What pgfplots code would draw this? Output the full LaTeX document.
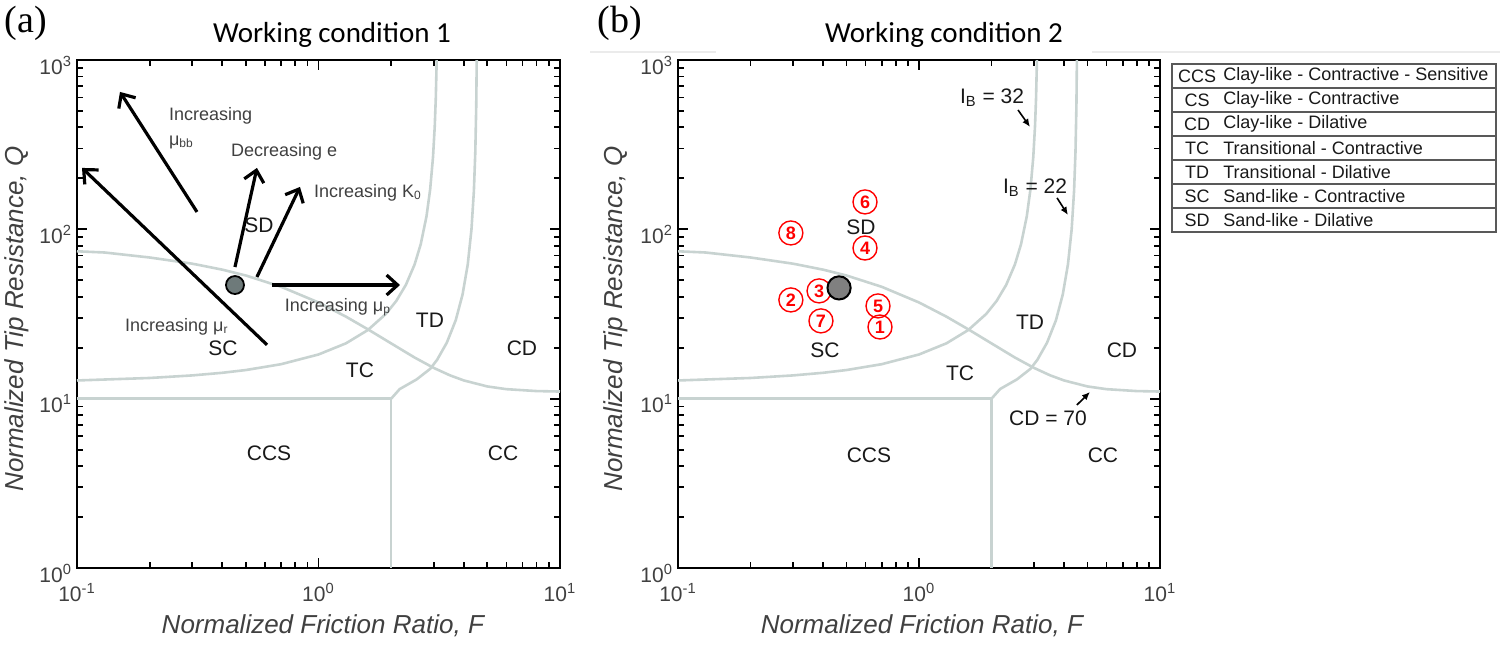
\documentclass[border=0pt]{standalone}
\usepackage{fontspec}
\setmainfont{Liberation Sans}
\newfontfamily\titlefont{Carlito}
\newfontfamily\panelfont{Liberation Serif}
\usepackage{pgfplots}
\pgfplotsset{compat=1.18}
\usetikzlibrary{arrows.meta}

\definecolor{bnd}{RGB}{200,211,209}
\definecolor{dotA}{RGB}{110,122,122}
\definecolor{dotB}{RGB}{128,128,128}

\tikzset{
  reglab/.style={font=\fontsize{10.5}{12}\selectfont, text=black!90},
  notelab/.style={font=\fontsize{9}{11}\selectfont, text=black!75},
  bndline/.style={draw=bnd, line width=1.3pt},
  bigarrow/.style={draw=black, line width=1.6pt, -{Straight Barb[length=5.5pt,width=10pt]}},
  smallarrow/.style={draw=black, line width=0.8pt, -{Latex[length=4pt,width=3.5pt]}},
}

\newcommand{\boundaries}{%
  \addplot[bndline, mark=none] coordinates {(0.1,10) (2.0,10) (2.0,1)};
  \addplot[bndline, mark=none] coordinates {
    (0.1,12.81) (0.2,13.25) (0.3,13.72) (0.4,14.22) (0.5,14.76) (0.7,15.98)
    (1.0,18.24) (1.3,21.23) (1.6,25.41) (1.9,31.63) (2.1,37.80) (2.3,46.97)
    (2.5,62.0) (2.65,81.58) (2.8,119.2) (2.9,172.2) (2.98,267.2) (3.03,407.9)
    (3.06,596.2) (3.0862,1000)};
  \addplot[bndline, mark=none] coordinates {
    (2.0,10) (2.17,11.4) (2.55,13.0) (2.9,15.0) (3.1,16.98) (3.4,21.43)
    (3.7,29.03) (3.95,41.22) (4.15,62.07) (4.3,100) (4.4,168.75) (4.46,287.2)
    (4.5,540) (4.5209,1000)};
  \addplot[bndline, mark=none] coordinates {
    (0.1,74.2) (0.13,73.0) (0.2,68.2) (0.3,62.7) (0.4,57.8) (0.5,53.4)
    (0.7,45.8) (1.0,37.0) (1.3,30.5) (1.6,25.7) (2.0,21.2) (2.5,17.5)
    (3.0,15.2) (3.5,13.74) (4.0,12.81) (5.0,11.81) (6.0,11.38) (8.0,11.09)
    (10,11.02)};
}

\begin{document}
\begin{tikzpicture}
\useasboundingbox (0,0) rectangle (750pt,322.5pt);

\draw[black!8, line width=0.6pt] (295pt,296.5pt) -- (358pt,296.5pt);
\draw[black!8, line width=0.6pt] (546pt,296.5pt) -- (750pt,296.5pt);

\node[font=\panelfont\fontsize{19}{21}\selectfont] at (13pt,311pt) {(a)};
\node[font=\panelfont\fontsize{19}{21}\selectfont] at (310pt,311pt) {(b)};
\node[font=\titlefont\fontsize{14.5}{16}\selectfont] at (166pt,305pt) {Working condition 1};
\node[font=\titlefont\fontsize{14.5}{16}\selectfont] at (472pt,305pt) {Working condition 2};

% panel (a)
\begin{axis}[
    at={(38.5pt,38.5pt)}, anchor=south west, width=241.5pt,
    xmode=log, ymode=log,
    scale only axis,
    height=254pt,
    xmin=0.1, xmax=10, ymin=1, ymax=1000,
    xtick={0.1,1,10}, ytick={1,10,100,1000},
    minor xtick={0.2,0.3,0.4,0.5,0.6,0.7,0.8,0.9,2,3,4,5,6,7,8,9},
    minor ytick={2,3,4,5,6,7,8,9,20,30,40,50,60,70,80,90,200,300,400,500,600,700,800,900},
    xticklabels={10\textsuperscript{-1},10\textsuperscript{0},10\textsuperscript{1}},
    yticklabels={10\textsuperscript{0},10\textsuperscript{1},10\textsuperscript{2},10\textsuperscript{3}},
    ticklabel style={font=\fontsize{10.5}{12}\selectfont, text=black!75},
    xticklabel style={yshift=-4pt},
    yticklabel style={yshift=-2.5pt, xshift=1pt},
    axis line style={line width=1.2pt},
    tick style={black, line width=0.9pt},
    major tick length=5pt, minor tick length=3pt,
    xlabel={Normalized Friction Ratio, F},
    ylabel={Normalized Tip Resistance, Q},
    label style={font=\fontsize{13}{15}\selectfont\itshape, text=black!75},
    ylabel style={at={(axis description cs:-0.124,0.49)}, anchor=center},
    xlabel style={at={(axis description cs:0.509,-0.114)}, anchor=center},
  ]
  \boundaries
  \addplot[bigarrow, mark=none] coordinates {(0.314,126.7) (0.1507,648)};
  \addplot[bigarrow, mark=none] coordinates {(0.612,20.8) (0.1049,230.5)};
  \addplot[bigarrow, mark=none] coordinates {(0.451,59.9) (0.556,230.5)};
  \addplot[bigarrow, mark=none] coordinates {(0.556,52.3) (0.838,178)};
  \addplot[bigarrow, mark=none] coordinates {(0.642,46.9) (2.175,46.9)};
  \addplot[only marks, mark=*, mark size=4.5pt, mark options={fill=dotA, draw=black, line width=0.9pt}]
    coordinates {(0.451,46.9)};
  \node[notelab, anchor=west] at (axis cs:0.225,467) {Increasing};
  \node[notelab, anchor=west] at (axis cs:0.225,328) {μ\textsubscript{bb}};
  \node[notelab, anchor=west] at (axis cs:0.406,286.5) {Decreasing e};
  \node[notelab, anchor=west] at (axis cs:0.896,164) {Increasing K\textsubscript{0}};
  \node[notelab, anchor=west] at (axis cs:0.679,34.8) {Increasing μ\textsubscript{p}};
  \node[notelab, anchor=west] at (axis cs:0.148,26.5) {Increasing μ\textsubscript{r}};
  \node[reglab] at (axis cs:0.567,106) {SD};
  \node[reglab] at (axis cs:0.402,19.9) {SC};
  \node[reglab] at (axis cs:1.485,14.8) {TC};
  \node[reglab] at (axis cs:2.895,29.2) {TD};
  \node[reglab] at (axis cs:6.96,19.9) {CD};
  \node[reglab] at (axis cs:0.624,4.78) {CCS};
  \node[reglab] at (axis cs:5.81,4.78) {CC};
\end{axis}

% panel (b)
\begin{axis}[
    at={(339pt,38.5pt)}, anchor=south west, width=241pt,
    xmode=log, ymode=log,
    scale only axis,
    height=254pt,
    xmin=0.1, xmax=10, ymin=1, ymax=1000,
    xtick={0.1,1,10}, ytick={1,10,100,1000},
    minor xtick={0.2,0.3,0.4,0.5,0.6,0.7,0.8,0.9,2,3,4,5,6,7,8,9},
    minor ytick={2,3,4,5,6,7,8,9,20,30,40,50,60,70,80,90,200,300,400,500,600,700,800,900},
    xticklabels={10\textsuperscript{-1},10\textsuperscript{0},10\textsuperscript{1}},
    yticklabels={10\textsuperscript{0},10\textsuperscript{1},10\textsuperscript{2},10\textsuperscript{3}},
    ticklabel style={font=\fontsize{10.5}{12}\selectfont, text=black!75},
    xticklabel style={yshift=-4pt},
    yticklabel style={yshift=-2.5pt, xshift=1pt},
    axis line style={line width=1.2pt},
    tick style={black, line width=0.9pt},
    major tick length=5pt, minor tick length=3pt,
    xlabel={Normalized Friction Ratio, F},
    ylabel={Normalized Tip Resistance, Q},
    label style={font=\fontsize{13}{15}\selectfont\itshape, text=black!75},
    ylabel style={at={(axis description cs:-0.129,0.49)}, anchor=center},
    xlabel style={at={(axis description cs:0.506,-0.114)}, anchor=center},
  ]
  \boundaries
  \addplot[only marks, mark=*, mark size=0pt, mark options={draw=none, fill=none},
    nodes near coords, point meta=explicit symbolic,
    every node near coord/.append style={anchor=center, circle, draw=red, line width=0.7pt,
      text=red, inner sep=0pt, minimum size=12pt, font=\fontsize{9}{9}\selectfont\bfseries}]
    table[meta=lab] {
      x     y     lab
      0.689 26.5  1
      0.294 38.3  2
      0.385 43.3  3
      0.597 77.6  4
      0.676 35.3  5
      0.597 145.2 6
      0.392 28.8  7
      0.294 95.2  8
    };
  \addplot[only marks, mark=*, mark size=5.8pt, mark options={fill=dotB, draw=black, line width=1pt}]
    coordinates {(0.466,45.1)};
  \addplot[smallarrow, mark=none] coordinates {(2.575,507) (2.888,402.7)};
  \addplot[smallarrow, mark=none] coordinates {(3.74,153.3) (4.15,121.6)};
  \addplot[smallarrow, mark=none] coordinates {(4.52,9.18) (5.12,10.95)};
  \node[reglab] at (axis cs:2.01,597) {I\textsubscript{B} = 32};
  \node[reglab] at (axis cs:3.03,175.6) {I\textsubscript{B} = 22};
  \node[reglab] at (axis cs:3.43,7.69) {CD = 70};
  \node[reglab] at (axis cs:0.574,103.3) {SD};
  \node[reglab] at (axis cs:0.407,19.4) {SC};
  \node[reglab] at (axis cs:1.48,14.2) {TC};
  \node[reglab] at (axis cs:2.888,28.4) {TD};
  \node[reglab] at (axis cs:6.95,19.4) {CD};
  \node[reglab] at (axis cs:0.620,4.65) {CCS};
  \node[reglab] at (axis cs:5.80,4.65) {CC};
\end{axis}

% class table
\foreach \ab/\txt [count=\i from 0] in {CCS/Clay-like - Contractive - Sensitive,
    CS/Clay-like - Contractive, CD/Clay-like - Dilative, TC/Transitional - Contractive,
    TD/Transitional - Dilative, SC/Sand-like - Contractive, SD/Sand-like - Dilative} {
  \node[font=\fontsize{9}{10}\selectfont, text=black!90] at (598.5pt,{284.5pt-12pt*\i}) {\ab};
  \node[font=\fontsize{9}{10}\selectfont, text=black!90, anchor=west, inner sep=0pt]
    at (611.5pt,{284.5pt-12pt*\i}) {\txt};
}
\foreach \i in {1,...,6} {
  \draw[black!65, line width=0.7pt] (586pt,{290.5pt-12pt*\i}) -- (748pt,{290.5pt-12pt*\i});
}
\draw[black!65, line width=0.7pt] (586pt,206.5pt) rectangle (748pt,290.5pt);
\end{tikzpicture}
\end{document}
